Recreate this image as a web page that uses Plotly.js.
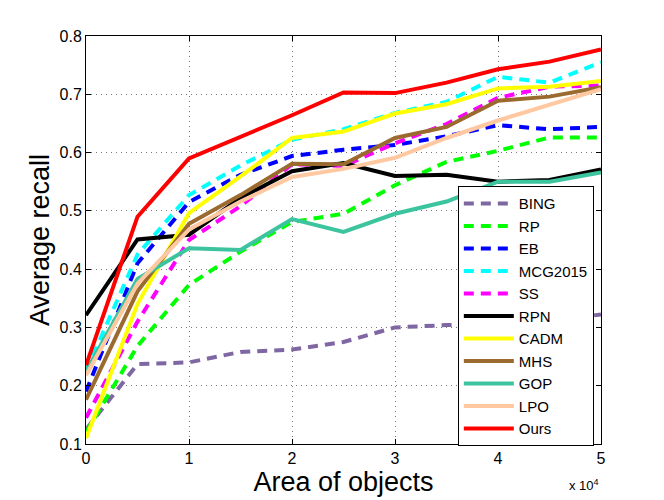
<!DOCTYPE html>
<html>
<head>
<meta charset="utf-8">
<script src="https://cdn.plot.ly/plotly-3.0.1.min.js"></script>
<style>
  html, body { margin: 0; padding: 0; background: #fff; }
  #chart { width: 664px; height: 500px; }
</style>
</head>
<body>
<div id="chart"></div>
<script>
// area of objects, in units of 10^4
var area = [0, 0.5, 1, 1.5, 2, 2.5, 3, 3.5, 4, 4.5, 5]

var bing    = [0.125, 0.237, 0.240, 0.258, 0.262, 0.275, 0.300, 0.304, 0.305, 0.312, 0.322]
var rp      = [0.120, 0.268, 0.373, 0.430, 0.481, 0.495, 0.544, 0.584, 0.603, 0.626, 0.626]
var eb      = [0.190, 0.410, 0.515, 0.562, 0.594, 0.605, 0.613, 0.628, 0.647, 0.640, 0.644]
var mcg     = [0.225, 0.425, 0.527, 0.578, 0.622, 0.640, 0.668, 0.687, 0.730, 0.720, 0.755]
var ss      = [0.145, 0.310, 0.450, 0.508, 0.580, 0.577, 0.616, 0.649, 0.694, 0.713, 0.715]
var rpn     = [0.321, 0.451, 0.459, 0.522, 0.568, 0.582, 0.560, 0.562, 0.550, 0.553, 0.571]
var cadm    = [0.110, 0.340, 0.496, 0.559, 0.625, 0.636, 0.667, 0.683, 0.710, 0.713, 0.723]
var mhs     = [0.176, 0.362, 0.478, 0.527, 0.581, 0.580, 0.625, 0.644, 0.689, 0.696, 0.712]
var gop     = [0.224, 0.383, 0.436, 0.433, 0.486, 0.464, 0.495, 0.516, 0.550, 0.550, 0.566]
var lpo     = [0.218, 0.375, 0.468, 0.516, 0.558, 0.572, 0.591, 0.625, 0.655, 0.682, 0.709]
var ours    = [0.235, 0.490, 0.590, 0.627, 0.664, 0.703, 0.702, 0.720, 0.743, 0.756, 0.777]

var names = ['BING', 'RP', 'EB', 'MCG2015', 'SS', 'RPN', 'CADM', 'MHS', 'GOP', 'LPO', 'Ours']
var series = [bing, rp, eb, mcg, ss, rpn, cadm, mhs, gop, lpo, ours]
var colors = ['#7F67A3', '#00FF00', '#0000FF', '#00FFFF', '#FF00FF', '#000000',
              '#FFFF00', '#9B6A2F', '#3CC49E', '#FFC8A0', '#FF0000']
var dashed = [true, true, true, true, true, false, false, false, false, false, false]

var font_family = 'Liberation Sans, Arial, Helvetica, sans-serif'

var trace_data = []
for (var i = 0; i < names.length; i++) {
    trace_data.push({
        x: area,
        y: series[i],
        name: names[i],
        type: 'scatter',
        mode: 'lines',
        line: {
            color: colors[i],
            width: 4,
            dash: dashed[i] ? '10px,7px' : 'solid'
        }
    })
}

var axis_common = {
    showline: true,
    linecolor: '#000',
    linewidth: 1,
    mirror: 'ticks',
    ticks: 'inside',
    ticklen: 5,
    tickcolor: '#000',
    showgrid: true,
    gridcolor: '#777',
    gridwidth: 1,
    griddash: '1px,4px',
    zeroline: false,
    tickfont: { family: font_family, size: 16, color: '#000' }
}

var layout = {
    width: 664,
    height: 500,
    margin: { l: 86, r: 63, t: 36, b: 56 },
    paper_bgcolor: '#fff',
    plot_bgcolor: '#fff',
    showlegend: true,
    font: { family: font_family, color: '#000' },
    xaxis: Object.assign({}, axis_common, {
        range: [0, 5],
        tickvals: [0, 1, 2, 3, 4, 5],
        title: { text: 'Area of objects', font: { family: font_family, size: 27 }, standoff: 5 }
    }),
    yaxis: Object.assign({}, axis_common, {
        range: [0.1, 0.8],
        tickvals: [0.1, 0.2, 0.3, 0.4, 0.5, 0.6, 0.7, 0.8],
        tickformat: '.1f',
        title: { text: 'Average recall', font: { family: font_family, size: 27 }, standoff: 2 }
    }),
    legend: {
        x: 0.722,
        y: 0.632,
        xanchor: 'left',
        yanchor: 'top',
        bgcolor: '#fff',
        bordercolor: '#000',
        borderwidth: 1,
        itemwidth: 50,
        tracegroupgap: 0,
        font: { family: font_family, size: 15, color: '#000' }
    },
    annotations: [{
        xref: 'paper',
        yref: 'paper',
        x: 1,
        y: -0.1,
        xanchor: 'right',
        yanchor: 'middle',
        showarrow: false,
        text: 'x 10<sup>4</sup>',
        font: { family: font_family, size: 13, color: '#000' }
    }]
}

Plotly.newPlot('chart', trace_data, layout, { displayModeBar: false, staticPlot: true })
</script>
</body>
</html>
